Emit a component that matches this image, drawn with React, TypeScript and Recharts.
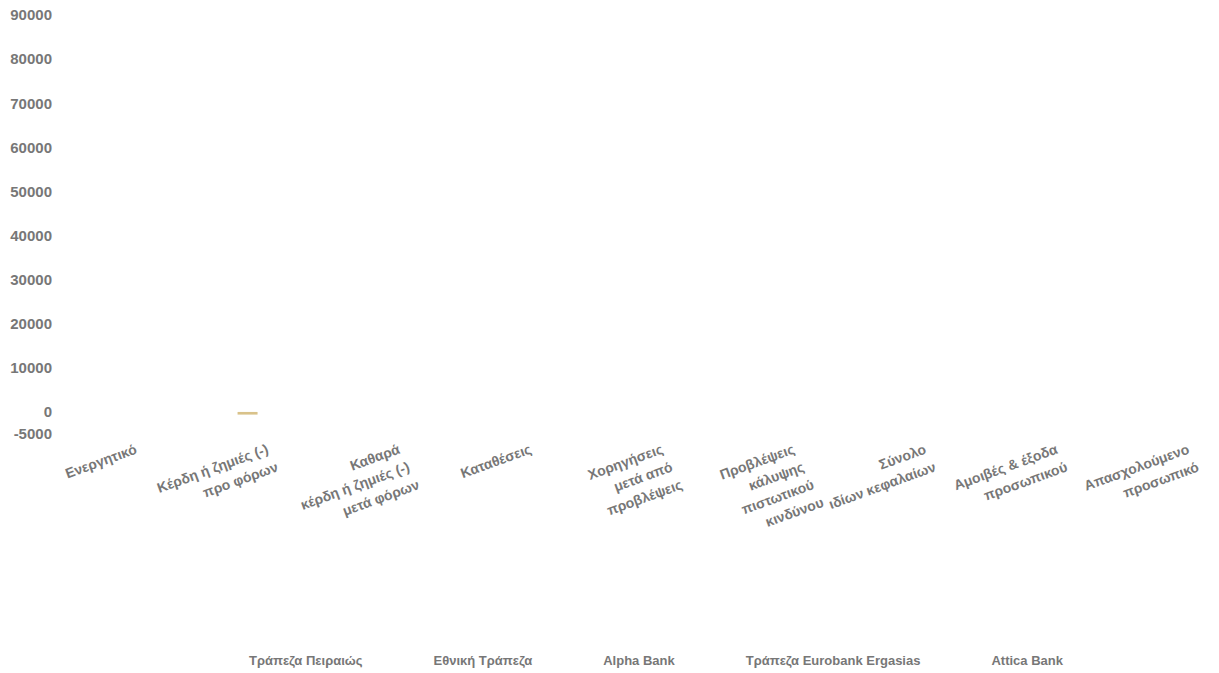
import React from 'react';
import { BarChart, Bar, XAxis, YAxis, Legend } from 'recharts';

// Category names; "\n" marks where a tick label wraps onto the next line.
const categories = [
  'Ενεργητικό',
  'Κέρδη ή ζημιές (-)\nπρο φόρων',
  'Καθαρά\nκέρδη ή ζημιές (-)\nμετά φόρων',
  'Καταθέσεις',
  'Χορηγήσεις\nμετά από\nπροβλέψεις',
  'Προβλέψεις\nκάλυψης\nπιστωτικού\nκινδύνου',
  'Σύνολο\nιδίων κεφαλαίων',
  'Αμοιβές & έξοδα\nπροσωπικού',
  'Απασχολούμενο\nπροσωπικό',
];

const banks = [
  'Τράπεζα Πειραιώς',
  'Εθνική Τράπεζα',
  'Alpha Bank',
  'Τράπεζα Eurobank Ergasias',
  'Attica Bank',
];

// Per-bank values by category (null = no bar drawn)
const piraeus = [null, null, null, null, null, null, null, null, null];
const ethniki = [null, null, null, null, null, null, null, null, null];
const alphaBank = [null, -600, null, null, null, null, null, null, null];
const eurobank = [null, null, null, null, null, null, null, null, null];
const attica = [null, null, null, null, null, null, null, null, null];

const yTicks = [-5000, 0, 10000, 20000, 30000, 40000, 50000, 60000, 70000, 80000, 90000];

const seriesValues = [piraeus, ethniki, alphaBank, eurobank, attica];
const seriesColors = ['#9fb7c9', '#b9c98f', '#d9c28a', '#c9a0a0', '#a8a8c8'];

const data = categories.map((name, i) => {
  const row: Record<string, string | number | null> = { name };
  banks.forEach((b, s) => {
    row[b] = seriesValues[s][i];
  });
  return row;
});

const FONT = "'Liberation Sans', Arial, sans-serif";
const TEXT_COLOR = '#777777';

const CategoryTick = (props: any) => {
  const { x, y, payload } = props;
  const lines = String(payload.value).split('\n');
  return (
    <g transform={`translate(${x + 22},${y + 19}) rotate(-20)`}>
      <text
        textAnchor="end"
        fill={TEXT_COLOR}
        fontSize={14}
        fontWeight="bold"
        fontFamily={FONT}
      >
        {lines.map((line, i) => (
          <tspan key={i} x={i * 3} dy={i === 0 ? 0 : 20}>
            {line}
          </tspan>
        ))}
      </text>
    </g>
  );
};

const LegendContent = () => (
  <div
    style={{
      display: 'flex',
      gap: 71,
      paddingLeft: 241,
      height: 20,
      alignItems: 'center',
      fontFamily: FONT,
      fontSize: 13,
      fontWeight: 'bold',
      color: TEXT_COLOR,
      whiteSpace: 'nowrap',
    }}
  >
    {banks.map((b) => (
      <span key={b}>{b}</span>
    ))}
  </div>
);

export default function App() {
  return (
    <div style={{ width: 1211, overflow: 'hidden' }}>
      <BarChart
        width={1230}
        height={662}
        data={data}
        margin={{ top: 7, right: 4, bottom: 0, left: 0 }}
        barGap={0}
      >
        <XAxis
          dataKey="name"
          interval={0}
          axisLine={false}
          tickLine={false}
          tickSize={0}
          tickMargin={0}
          height={216}
          tick={<CategoryTick />}
        />
        <YAxis
          width={42}
          domain={[-5000, 90000]}
          ticks={yTicks}
          interval={0}
          axisLine={false}
          tickLine={false}
          tickSize={0}
          tickMargin={0}
          tick={{ fill: TEXT_COLOR, fontSize: 15, fontWeight: 'bold', fontFamily: FONT, dx: 2 }}
        />
        <Legend verticalAlign="bottom" align="left" height={20} content={<LegendContent />} />
        {banks.map((b, s) => (
          <Bar key={b} dataKey={b} fill={seriesColors[s]} barSize={20} isAnimationActive={false} />
        ))}
      </BarChart>
    </div>
  );
}
